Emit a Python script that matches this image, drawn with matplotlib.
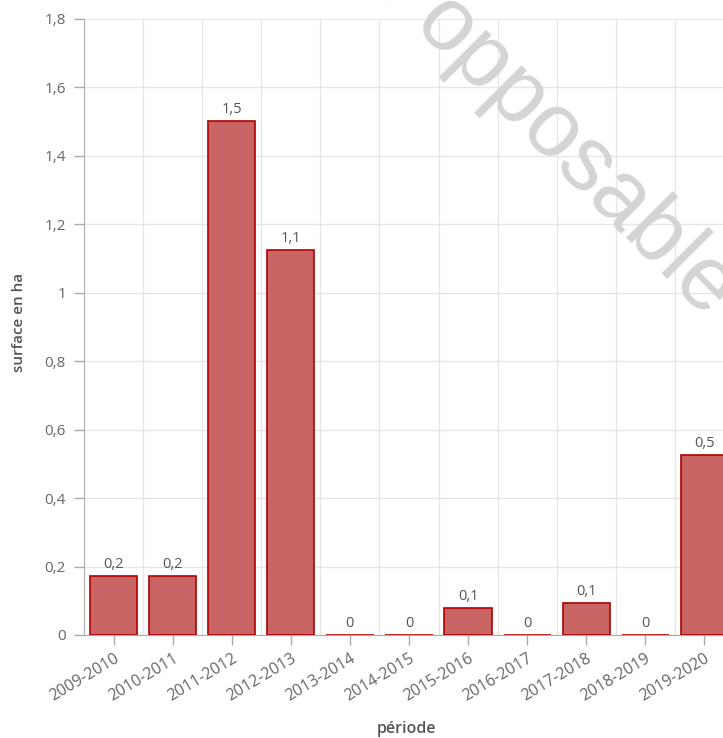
import matplotlib
matplotlib.use("Agg")
import matplotlib.pyplot as plt
import numpy as np

# Data
periods = ["2009-2010", "2010-2011", "2011-2012", "2012-2013", "2013-2014",
           "2014-2015", "2015-2016", "2016-2017", "2017-2018", "2018-2019",
           "2019-2020"]
surface = [0.172, 0.172, 1.502, 1.125, 0.0, 0.0, 0.079, 0.0, 0.094, 0.0, 0.526]
y_ticks = [0, 0.2, 0.4, 0.6, 0.8, 1.0, 1.2, 1.4, 1.6, 1.8]
y_tick_labels = ["0", "0,2", "0,4", "0,6", "0,8", "1", "1,2", "1,4", "1,6", "1,8"]

plt.rcParams['font.family'] = ['Open Sans', 'DejaVu Sans']

fig = plt.figure(figsize=(7.23, 7.38), dpi=100)
# axes runs past the right edge of the picture (chart is cropped)
ax = fig.add_axes([84 / 723, 1 - 635 / 738, 650 / 723, 616 / 738])

x = np.arange(len(periods))
ax.bar(x, surface, width=0.8, color="#c86464", edgecolor="#b00000",
       linewidth=1.2, zorder=3)

# value labels, rounded to one decimal with a comma
for xi, v in zip(x, surface):
    lab = f"{round(v, 1):.1f}".replace(".", ",")
    if lab == "0,0":
        lab = "0"
    ax.annotate(lab, (xi, v), xytext=(0, 3), textcoords="offset points",
                ha="center", va="bottom", fontsize=10.5, color="#555555")

ax.set_xlim(-0.5, len(periods) - 0.5)
ax.set_ylim(0, 1.8)

ax.set_yticks(y_ticks)
ax.set_yticklabels(y_tick_labels)
ax.set_xticks(x)
ax.set_xticklabels(periods, rotation=31, ha="right", rotation_mode="anchor")
ax.set_xticks(np.arange(-0.5, len(periods), 1.0), minor=True)

ax.tick_params(axis="y", length=7, width=1, color="#aaaaaa", labelsize=11,
               labelcolor="#666666", pad=6)
ax.tick_params(axis="x", which="major", length=7, width=1, color="#aaaaaa",
               labelsize=11.5, labelcolor="#666666", pad=4)
ax.tick_params(axis="x", which="minor", length=0)

ax.grid(axis="y", color="#e6e6e6", linewidth=1, zorder=0)
ax.grid(axis="x", which="minor", color="#e6e6e6", linewidth=1, zorder=0)
ax.set_axisbelow(True)

for s in ["top", "right"]:
    ax.spines[s].set_visible(False)
ax.spines["left"].set_color("#b0b0b0")
ax.spines["bottom"].set_color("#aaaaaa")

fig.text(19 / 723, 1 - 322 / 738, "surface en ha", rotation=90, ha="center",
         va="center", fontsize=11, color="#555555", fontweight="semibold")
fig.text(407 / 723, 1 - 729 / 738, "période", ha="center", va="center",
         fontsize=11.5, color="#555555", fontweight="semibold")

# watermark, running off the top and right edges
wm = dict(rotation=-45, rotation_mode="anchor", va="baseline",
          fontsize=65, color="#d4d4d4", family="Liberation Sans", zorder=10)
fig.text(411 / 723, 1 - 27 / 738, "opposable", ha="left", **wm)
fig.text(393 / 723, 1 - 9 / 738, "non", ha="right", **wm)

fig.savefig("out.png", dpi=100)
